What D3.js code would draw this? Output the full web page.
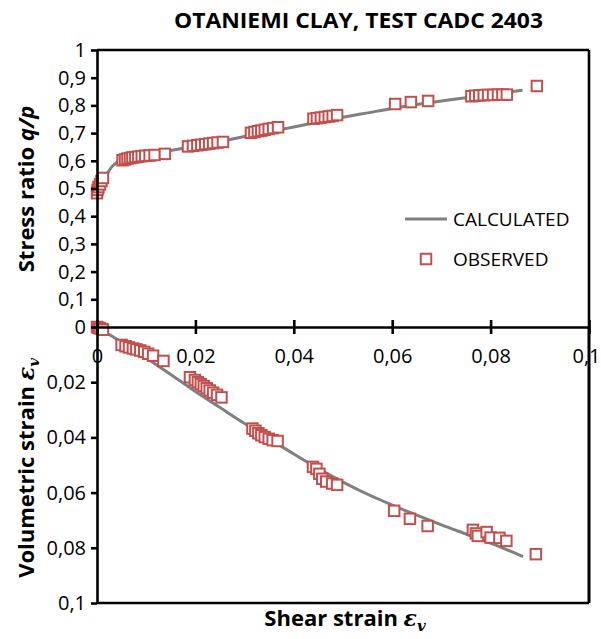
<!DOCTYPE html>
<html><head><meta charset="utf-8">
<script src="https://cdn.jsdelivr.net/npm/d3@7"></script>
<style>
body{margin:0;background:#fff}
svg{display:block}
text{font-family:"Open Sans","Noto Sans",sans-serif;fill:#000}
</style>
</head><body>
<svg id="c" width="601" height="639"></svg>
<script>
// ---------- DATA ----------
const titleText = "OTANIEMI CLAY, TEST CADC 2403";
const seriesNames = ["CALCULATED", "OBSERVED"];

// Stress ratio q/p vs shear strain (top panel)
const calcShearTop = [0, 0.001, 0.002, 0.003, 0.004, 0.005, 0.0075, 0.01, 0.015, 0.02, 0.025, 0.03, 0.035, 0.04, 0.045, 0.05, 0.055, 0.06, 0.065, 0.07, 0.075, 0.08, 0.0865];
const calcRatio    = [0.5, 0.525, 0.552, 0.578, 0.594, 0.602, 0.613, 0.621, 0.637, 0.653, 0.670, 0.688, 0.705, 0.722, 0.740, 0.757, 0.773, 0.789, 0.803, 0.816, 0.828, 0.840, 0.855];

const obsShearTop = [0.0000, 0.0001, 0.0003, 0.0006, 0.0009, 0.0012,
  0.0052, 0.0057, 0.0062, 0.0067, 0.0072, 0.0078, 0.0084, 0.0091, 0.0098, 0.0107, 0.0117, 0.0138,
  0.0185, 0.0195, 0.0204, 0.0212, 0.0220, 0.0228, 0.0236, 0.0245, 0.0256,
  0.0313, 0.0320, 0.0327, 0.0334, 0.0341, 0.0349, 0.0358, 0.0368,
  0.0440, 0.0447, 0.0455, 0.0463, 0.0471, 0.0479, 0.0488,
  0.0606, 0.0638, 0.0673,
  0.0761, 0.0769, 0.0777, 0.0786, 0.0795, 0.0805, 0.0815, 0.0824, 0.0833,
  0.0894];
const obsRatio = [0.483, 0.495, 0.505, 0.515, 0.527, 0.538,
  0.602, 0.605, 0.608, 0.610, 0.612, 0.613, 0.615, 0.617, 0.618, 0.619, 0.621, 0.625,
  0.652, 0.654, 0.656, 0.658, 0.660, 0.662, 0.664, 0.666, 0.668,
  0.701, 0.704, 0.707, 0.709, 0.712, 0.715, 0.718, 0.721,
  0.752, 0.754, 0.756, 0.758, 0.760, 0.762, 0.765,
  0.805, 0.812, 0.816,
  0.833, 0.835, 0.836, 0.837, 0.838, 0.838, 0.839, 0.839, 0.839,
  0.870];

// Volumetric strain vs shear strain (bottom panel)
const calcShearBot = [0, 0.005, 0.01, 0.015, 0.02, 0.025, 0.03, 0.035, 0.04, 0.045, 0.05, 0.055, 0.06, 0.065, 0.07, 0.075, 0.08, 0.0866];
const calcVol      = [0, 0.0055, 0.0112, 0.0172, 0.0234, 0.0292, 0.0350, 0.0405, 0.0460, 0.0513, 0.0562, 0.0606, 0.0645, 0.0682, 0.0717, 0.0750, 0.0783, 0.0832];

const obsShearBot = [0.0000, 0.0003, 0.0006, 0.0010, 0.0012,
  0.0050, 0.0058, 0.0065, 0.0073, 0.0080, 0.0088, 0.0096, 0.0104, 0.0114, 0.0135,
  0.0189, 0.0199, 0.0205, 0.0211, 0.0217, 0.0223, 0.0229, 0.0236, 0.0244, 0.0253,
  0.0316, 0.0322, 0.0328, 0.0334, 0.0341, 0.0349, 0.0357, 0.0367,
  0.0439, 0.0446, 0.0452, 0.0458, 0.0466, 0.0478, 0.0488,
  0.0604, 0.0636, 0.0672,
  0.0764, 0.0770, 0.0774, 0.0792, 0.0800, 0.0818, 0.0832,
  0.0892];
const obsVol = [0.0000, 0.0003, 0.0005, 0.0008, 0.0010,
  0.0065, 0.0070, 0.0074, 0.0078, 0.0081, 0.0085, 0.0090, 0.0097, 0.0104, 0.0123,
  0.0182, 0.0192, 0.0200, 0.0207, 0.0214, 0.0222, 0.0230, 0.0238, 0.0246, 0.0255,
  0.0368, 0.0376, 0.0385, 0.0392, 0.0399, 0.0405, 0.0410, 0.0413,
  0.0507, 0.0514, 0.0532, 0.0550, 0.0560, 0.0567, 0.0572,
  0.0666, 0.0695, 0.0721,
  0.0735, 0.0748, 0.0757, 0.0743, 0.0763, 0.0764, 0.0775,
  0.0823];

// Ticks
const xTicks = [0, 0.02, 0.04, 0.06, 0.08, 0.1];
const xTickLabels = ["0", "0,02", "0,04", "0,06", "0,08", "0,1"];
const topTicks = [0, 0.1, 0.2, 0.3, 0.4, 0.5, 0.6, 0.7, 0.8, 0.9, 1];
const topTickLabels = ["0", "0,1", "0,2", "0,3", "0,4", "0,5", "0,6", "0,7", "0,8", "0,9", "1"];
const botTicks = [0.02, 0.04, 0.06, 0.08, 0.1];
const botTickLabels = ["0,02", "0,04", "0,06", "0,08", "0,1"];

// ---------- DRAW ----------
const svg = d3.select("#c");
const L = 97, R = 589, T = 50, M = 327, B = 603;
const x = d3.scaleLinear().domain([0, 0.1]).range([L, R]);
const yTop = d3.scaleLinear().domain([0, 1]).range([M, T]);
const yBot = d3.scaleLinear().domain([0, 0.1]).range([M, B]);

const red = "#c0504d", grey = "#808080";
const axisW = 2.6;
const tickFont = 20;

// title
svg.append("text").attr("x", 358.5).attr("y", 28).attr("text-anchor", "middle")
  .attr("font-size", 21).attr("font-weight", 700)
  .attr("textLength", 369).attr("lengthAdjust", "spacingAndGlyphs")
  .text(titleText);

// calculated lines
const lineTop = d3.line().x((d, i) => x(calcShearTop[i])).y(d => yTop(d)).curve(d3.curveMonotoneX);
svg.append("path").attr("d", lineTop(calcRatio)).attr("fill", "none").attr("stroke", grey).attr("stroke-width", 3);
const lineBot = d3.line().x((d, i) => x(calcShearBot[i])).y(d => yBot(d)).curve(d3.curveMonotoneX);
svg.append("path").attr("d", lineBot(calcVol)).attr("fill", "none").attr("stroke", grey).attr("stroke-width", 3);

// observed markers
const S = 10.5;
function markers(xs, ys, yScale) {
  svg.append("g").selectAll("rect").data(ys).join("rect")
    .attr("x", (d, i) => x(xs[i]) - S / 2)
    .attr("y", d => yScale(d) - S / 2)
    .attr("width", S).attr("height", S)
    .attr("fill", "#fff").attr("stroke", red).attr("stroke-width", 2);
}
markers(obsShearTop, obsRatio, yTop);
markers(obsShearBot, obsVol, yBot);

// frame
const frame = svg.append("g").attr("stroke", "#000").attr("stroke-width", axisW).attr("fill", "none");
frame.append("line").attr("x1", L).attr("x2", R).attr("y1", T).attr("y2", T);
frame.append("line").attr("x1", R).attr("x2", R).attr("y1", T).attr("y2", B);
frame.append("line").attr("x1", L).attr("x2", R).attr("y1", B).attr("y2", B);

function styleAxis(g) {
  g.select(".domain").attr("stroke", "#000").attr("stroke-width", axisW);
  g.selectAll(".tick line").attr("stroke", "#000").attr("stroke-width", axisW);
  g.selectAll(".tick text").attr("font-size", tickFont).attr("font-family", "'Open Sans','Noto Sans',sans-serif").attr("fill", "#000");
}

// left axes
const gTop = svg.append("g").attr("transform", `translate(${L},0)`)
  .call(d3.axisLeft(yTop).tickValues(topTicks).tickFormat((d, i) => topTickLabels[i]).tickSizeOuter(0).tickSizeInner(6).tickPadding(5));
styleAxis(gTop);
const gBot = svg.append("g").attr("transform", `translate(${L},0)`)
  .call(d3.axisLeft(yBot).tickValues(botTicks).tickFormat((d, i) => botTickLabels[i]).tickSizeOuter(0).tickSizeInner(6).tickPadding(5));
styleAxis(gBot);

// x axis at zero line
const gX = svg.append("g").attr("transform", `translate(0,${M})`)
  .call(d3.axisBottom(x).tickValues(xTicks).tickFormat((d, i) => xTickLabels[i]).tickSizeOuter(0).tickSizeInner(7));
styleAxis(gX);
gX.selectAll(".tick line").attr("y1", -7).attr("y2", 7);
gX.selectAll(".tick text").attr("y", 36).attr("dy", "0");
// last label sits under the right frame line as in the original
gX.selectAll(".tick text").filter((d, i) => i === xTicks.length - 1).attr("dx", -3);
svg.append("line").attr("x1", R).attr("x2", R).attr("y1", M).attr("y2", B).attr("stroke", "#000").attr("stroke-width", axisW);

// axis titles
const titleFont = 22;
const yt1 = svg.append("text").attr("transform", "translate(34,189) rotate(-90)")
  .attr("text-anchor", "middle").attr("font-size", titleFont).attr("font-weight", 700);
yt1.append("tspan").text("Stress ratio ");
yt1.append("tspan").attr("font-style", "italic").text("q/p");

const yt2 = svg.append("text").attr("transform", "translate(34,468) rotate(-90)")
  .attr("text-anchor", "middle").attr("font-size", titleFont).attr("font-weight", 700);
yt2.append("tspan").text("Volumetric strain ");
yt2.append("tspan").attr("font-style", "italic").attr("font-family", "'DejaVu Serif',serif").text("ε");
yt2.append("tspan").attr("font-style", "italic").attr("font-family", "'DejaVu Serif',serif").attr("font-size", 15).attr("dy", 5).text("v");

const xt = svg.append("text").attr("x", 345).attr("y", 626)
  .attr("text-anchor", "middle").attr("font-size", titleFont).attr("font-weight", 700);
xt.append("tspan").text("Shear strain ");
xt.append("tspan").attr("font-style", "italic").attr("font-family", "'DejaVu Serif',serif").text("ε");
xt.append("tspan").attr("font-style", "italic").attr("font-family", "'DejaVu Serif',serif").attr("font-size", 15).attr("dy", 5).text("v");

// legend
const lg = svg.append("g");
lg.append("line").attr("x1", 405).attr("x2", 447).attr("y1", 219).attr("y2", 219).attr("stroke", grey).attr("stroke-width", 3);
lg.append("text").attr("x", 453).attr("y", 219).attr("dy", "0.35em").attr("font-size", 19).text(seriesNames[0]);
lg.append("rect").attr("x", 426 - S / 2).attr("y", 259 - S / 2).attr("width", S).attr("height", S)
  .attr("fill", "#fff").attr("stroke", red).attr("stroke-width", 2);
lg.append("text").attr("x", 453).attr("y", 259).attr("dy", "0.35em").attr("font-size", 19).text(seriesNames[1]);
</script>
</body></html>
